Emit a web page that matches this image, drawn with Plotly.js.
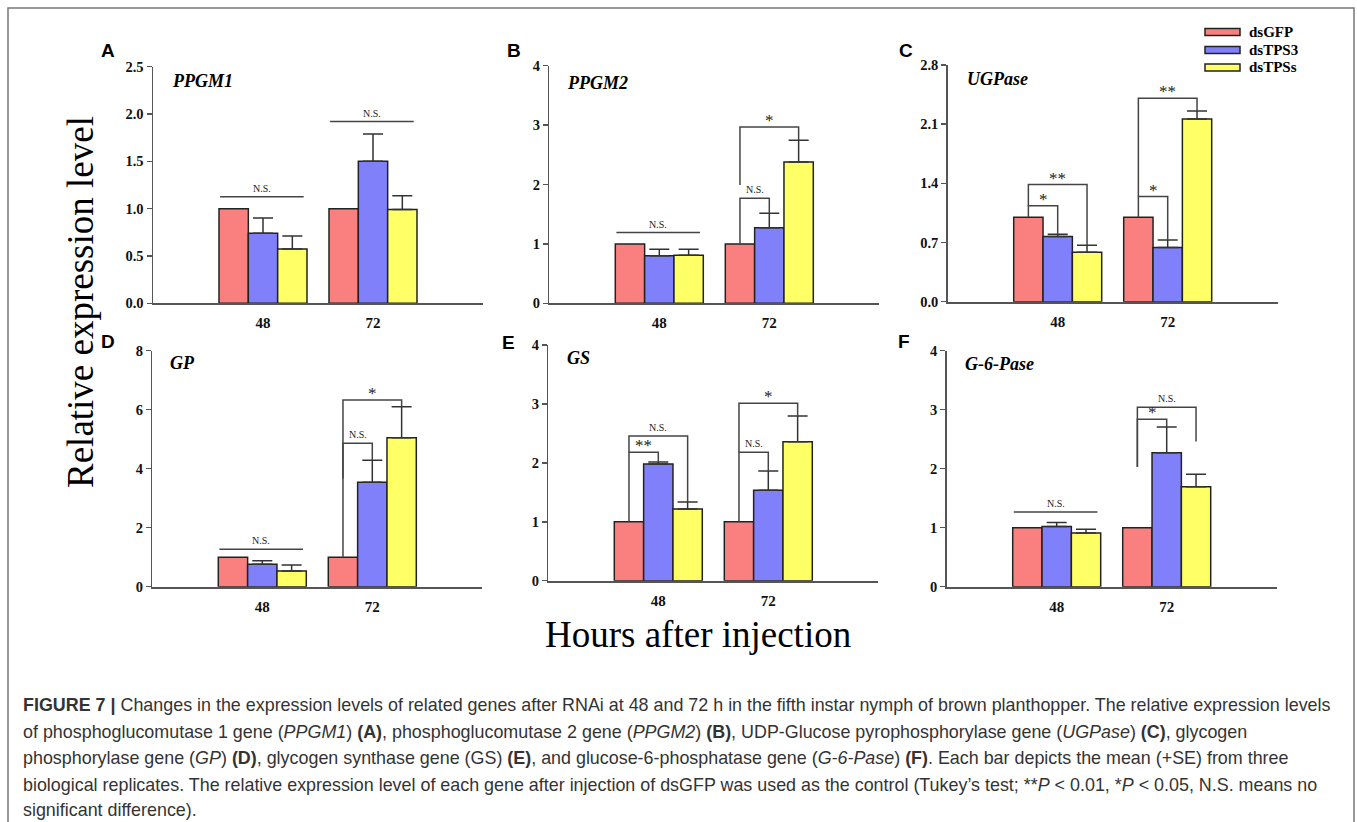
<!DOCTYPE html>
<html><head><meta charset="utf-8">
<script src="https://cdn.plot.ly/plotly-3.0.1.min.js"></script>
<style>html,body{margin:0;padding:0;background:#fff}</style>
</head><body><div id="chart" style="width:1357px;height:822px"></div>
<script>
// ---------- DATA ----------
const hours = ['48', '72'];
const seriesNames = ['dsGFP', 'dsTPS3', 'dsTPSs'];
const genes = ['PPGM1', 'PPGM2', 'UGPase', 'GP', 'GS', 'G-6-Pase'];
const panelLetters = ['A', 'B', 'C', 'D', 'E', 'F'];

// means: rows = series (dsGFP, dsTPS3, dsTPSs), columns = hours (48, 72)
const PPGM1_means = [[1.00, 1.00], [0.74, 1.50], [0.575, 0.99]];
const PPGM1_se    = [[0, 0], [0.16, 0.29], [0.135, 0.147]];
const PPGM2_means = [[1.00, 1.00], [0.80, 1.27], [0.81, 2.38]];
const PPGM2_se    = [[0, 0], [0.11, 0.245], [0.10, 0.365]];
const UGPase_means = [[1.00, 1.00], [0.77, 0.64], [0.585, 2.16]];
const UGPase_se    = [[0, 0], [0.027, 0.09], [0.083, 0.095]];
const GP_means = [[1.00, 1.00], [0.76, 3.54], [0.53, 5.05]];
const GP_se    = [[0, 0], [0.12, 0.75], [0.205, 1.05]];
const GS_means = [[1.00, 1.00], [1.98, 1.535], [1.217, 2.36]];
const GS_se    = [[0, 0], [0.035, 0.327], [0.119, 0.436]];
const G6Pase_means = [[1.00, 1.00], [1.02, 2.27], [0.91, 1.695]];
const G6Pase_se    = [[0, 0], [0.068, 0.437], [0.063, 0.21]];

// significance: flat lines [hourIdx, level, label]
const PPGM1_flat = [[0, 1.127, 'N.S.'], [1, 1.92, 'N.S.']];
const PPGM2_flat = [[0, 1.19, 'N.S.']];
const UGPase_flat = [];
const GP_flat = [[0, 1.27, 'N.S.']];
const GS_flat = [];
const G6Pase_flat = [[0, 1.266, 'N.S.']];
// brackets [hourIdx, fromSeries, toSeries, yStart, yTop, yEnd, label]
const PPGM1_brackets = [];
const PPGM2_brackets = [[1, 0, 1, 1.0, 1.768, 1.515, 'N.S.'], [1, 0, 2, 1.99, 2.97, 2.75, '*']];
const UGPase_brackets = [[0, 0, 1, 1.0, 1.136, 0.797, '*'], [0, 0, 2, 1.136, 1.385, 0.667, '**'],
                         [1, 0, 1, 1.0, 1.243, 0.73, '*'], [1, 0, 2, 1.243, 2.407, 2.257, '**']];
const GP_brackets = [[1, 0, 1, 1.0, 4.86, 4.29, 'N.S.'], [1, 0, 2, 3.67, 6.33, 6.10, '*']];
const GS_brackets = [[0, 0, 1, 1.0, 2.18, 2.015, '**'], [0, 0, 2, 2.18, 2.457, 1.336, 'N.S.'],
                     [1, 0, 1, 1.0, 2.18, 1.862, 'N.S.'], [1, 0, 2, 2.18, 3.01, 2.796, '*']];
const G6Pase_brackets = [[1, 0, 1, 2.03, 2.84, 2.707, '*'], [1, 0, 2, 2.03, 3.04, 2.46, 'N.S.']];

// y tick values
const PPGM1_ticks = [0, 0.5, 1.0, 1.5, 2.0, 2.5];
const PPGM2_ticks = [0, 1, 2, 3, 4];
const UGPase_ticks = [0, 0.7, 1.4, 2.1, 2.8];
const GP_ticks = [0, 2, 4, 6, 8];
const GS_ticks = [0, 1, 2, 3, 4];
const G6Pase_ticks = [0, 1, 2, 3, 4];

// ---------- LAYOUT / STYLE ----------
const W = 1357, H = 822;
const px = v => v / W;
const py = v => 1 - v / H;
const colors = ['#FA8080', '#8080FA', '#FFFF66'];
const serif = 'Liberation Serif, Times New Roman, serif';
const sans = 'Liberation Sans, Arial, sans-serif';

const panels = [
  {means: PPGM1_means, se: PPGM1_se, flat: PPGM1_flat, br: PPGM1_brackets, ticks: PPGM1_ticks, fmt: '.1f', dom: [153, 483, 66.7, 303.3], letter: [108, 50], lab: [170, 81]},
  {means: PPGM2_means, se: PPGM2_se, flat: PPGM2_flat, br: PPGM2_brackets, ticks: PPGM2_ticks, fmt: 'd', dom: [549.3, 879.3, 65.7, 303.3], letter: [514, 51], lab: [565, 83]},
  {means: UGPase_means, se: UGPase_se, flat: UGPase_flat, br: UGPase_brackets, ticks: UGPase_ticks, fmt: '.1f', dom: [947.7, 1277.7, 65, 301.7], letter: [906, 50], lab: [965, 79]},
  {means: GP_means, se: GP_se, flat: GP_flat, br: GP_brackets, ticks: GP_ticks, fmt: 'd', dom: [152.3, 482.3, 350.7, 586.7], letter: [108, 341], lab: [168, 363]},
  {means: GS_means, se: GS_se, flat: GS_flat, br: GS_brackets, ticks: GS_ticks, fmt: 'd', dom: [548.3, 878.3, 345, 580.7], letter: [508, 342], lab: [565, 358]},
  {means: G6Pase_means, se: G6Pase_se, flat: G6Pase_flat, br: G6Pase_brackets, ticks: G6Pase_ticks, fmt: 'd', dom: [946.7, 1276.7, 350.7, 586.7], letter: [904, 341], lab: [963, 364]}
];

const barW = 0.8 / 3;
const xPos = hours.map((h, i) => i + 1);
const traces = [];
const annotations = [];
const shapes = [];
const layout = {
  width: W, height: H, autosize: false,
  margin: {l: 0, r: 0, t: 0, b: 0},
  paper_bgcolor: '#fff', plot_bgcolor: 'rgba(0,0,0,0)',
  showlegend: false, barmode: 'group', bargap: 0.2, bargroupgap: 0,
  font: {family: serif, color: '#111'}
};

panels.forEach((p, k) => {
  const xa = k === 0 ? 'x' : 'x' + (k + 1);
  const ya = k === 0 ? 'y' : 'y' + (k + 1);
  const xk = k === 0 ? 'xaxis' : 'xaxis' + (k + 1);
  const yk = k === 0 ? 'yaxis' : 'yaxis' + (k + 1);
  const [x0, x1, yt, yb] = p.dom;
  const top = p.ticks[p.ticks.length - 1];
  layout[xk] = {
    domain: [px(x0), px(x1)], anchor: ya, range: [0, 3],
    tickvals: xPos, ticktext: hours, ticks: 'outside', ticklen: 5, tickcolor: 'rgba(0,0,0,0)',
    showline: true, linecolor: '#555', linewidth: 2, showgrid: false, zeroline: false,
    tickfont: {family: serif, size: 15, color: '#111', weight: 'bold'}, fixedrange: true
  };
  layout[yk] = {
    domain: [py(yb), py(yt)], anchor: xa, range: [0, top],
    tickvals: p.ticks, tickformat: p.fmt, ticks: 'outside', ticklen: 5, tickwidth: 1.5, tickcolor: '#555',
    showline: true, linecolor: '#555', linewidth: 1.5, showgrid: false, zeroline: false,
    tickfont: {family: serif, size: 14.5, color: '#111', weight: 'bold'}, fixedrange: true
  };
  seriesNames.forEach((name, s) => {
    const hasErr = p.se[s].some(v => v > 0);
    traces.push({
      type: 'bar', name: name, x: xPos, y: p.means[s], xaxis: xa, yaxis: ya,
      marker: {color: colors[s], line: {color: '#222', width: 1.5}},
      error_y: hasErr ? {type: 'data', symmetric: false, array: p.se[s], arrayminus: p.se[s].map(() => 0),
                         color: '#333', thickness: 1.5, width: 10} : {visible: false},
      hoverinfo: 'skip', showlegend: false
    });
  });
  p.flat.forEach(([h, lvl, lab]) => {
    const c = xPos[h];
    traces.push({type: 'scatter', mode: 'lines', x: [c - 0.39, c + 0.37], y: [lvl, lvl], xaxis: xa, yaxis: ya,
      line: {color: '#444', width: 1.5}, hoverinfo: 'skip', showlegend: false});
    annotations.push({xref: xa, yref: ya, x: c - 0.01, y: lvl, text: lab, showarrow: false, yanchor: 'bottom',
      yshift: 1, font: {family: serif, size: 10, color: '#222'}});
  });
  p.br.forEach(([h, sa, sb, ys, ytop, ye, lab]) => {
    const xl = xPos[h] + (sa - 1) * barW, xr = xPos[h] + (sb - 1) * barW;
    traces.push({type: 'scatter', mode: 'lines', x: [xl, xl, xr, xr], y: [ys, ytop, ytop, ye], xaxis: xa, yaxis: ya,
      line: {color: '#444', width: 1.5}, hoverinfo: 'skip', showlegend: false});
    const ns = lab === 'N.S.';
    annotations.push({xref: xa, yref: ya, x: (xl + xr) / 2, y: ytop, text: lab, showarrow: false, yanchor: 'bottom',
      yshift: ns ? 1 : -5, font: {family: serif, size: ns ? 10 : 17, color: '#222'}});
  });
  annotations.push({xref: 'paper', yref: 'paper', x: px(p.letter[0]), y: py(p.letter[1]), text: '<b>' + panelLetters[k] + '</b>',
    showarrow: false, xanchor: 'center', yanchor: 'middle', font: {family: sans, size: 19, color: '#000'}});
  annotations.push({xref: 'paper', yref: 'paper', x: px(p.lab[0]), y: py(p.lab[1]), text: '<b><i>' + genes[k] + '</i></b>',
    showarrow: false, xanchor: 'left', yanchor: 'middle', font: {family: serif, size: 18, color: '#000'}});
});

// legend (manual)
const legY = [32, 50, 67.5];
seriesNames.forEach((name, s) => {
  shapes.push({type: 'rect', xref: 'paper', yref: 'paper', x0: px(1205), x1: px(1240), y0: py(legY[s] + 3.5), y1: py(legY[s] - 3.5),
    fillcolor: colors[s], line: {color: '#222', width: 1.5}});
  annotations.push({xref: 'paper', yref: 'paper', x: px(1247), y: py(legY[s]), text: '<b>' + name + '</b>', showarrow: false,
    xanchor: 'left', yanchor: 'middle', font: {family: serif, size: 15, color: '#000'}});
});

// axis titles
annotations.push({xref: 'paper', yref: 'paper', x: px(80), y: py(302), text: 'Relative expression level', textangle: -90,
  showarrow: false, xanchor: 'center', yanchor: 'middle', font: {family: serif, size: 37, color: '#000'}});
annotations.push({xref: 'paper', yref: 'paper', x: px(698), y: py(634), text: 'Hours after injection',
  showarrow: false, xanchor: 'center', yanchor: 'middle', font: {family: serif, size: 37, color: '#000'}});

// caption
const captionLines = [
  '<b>FIGURE 7 |</b> Changes in the expression levels of related genes after RNAi at 48 and 72 h in the fifth instar nymph of brown planthopper. The relative expression levels',
  'of phosphoglucomutase 1 gene (<i>PPGM1</i>) <b>(A)</b>, phosphoglucomutase 2 gene (<i>PPGM2</i>) <b>(B)</b>, UDP-Glucose pyrophosphorylase gene (<i>UGPase</i>) <b>(C)</b>, glycogen',
  'phosphorylase gene (<i>GP</i>) <b>(D)</b>, glycogen synthase gene (GS) <b>(E)</b>, and glucose-6-phosphatase gene (<i>G-6-Pase</i>) <b>(F)</b>. Each bar depicts the mean (+SE) from three',
  'biological replicates. The relative expression level of each gene after injection of dsGFP was used as the control (Tukey\u2019s test; **<i>P</i> &lt; 0.01, *<i>P</i> &lt; 0.05, N.S. means no',
  'significant difference).'
];
const capY = [705, 731.5, 758, 784.5, 810];
captionLines.forEach((t, i) => {
  annotations.push({xref: 'paper', yref: 'paper', x: px(21), y: py(capY[i]), text: t, showarrow: false,
    xanchor: 'left', yanchor: 'middle', font: {family: sans, size: 17.9, color: '#333'}});
});

// border (left, top, right)
shapes.push({type: 'path', xref: 'paper', yref: 'paper',
  path: 'M ' + px(8) + ' ' + py(822) + ' L ' + px(8) + ' ' + py(8) + ' L ' + px(1354) + ' ' + py(8) + ' L ' + px(1354) + ' ' + py(822),
  line: {color: '#777', width: 1.5}});

layout.annotations = annotations;
layout.shapes = shapes;
Plotly.newPlot('chart', traces, layout, {staticPlot: true, displayModeBar: false});
</script>
</body></html>
